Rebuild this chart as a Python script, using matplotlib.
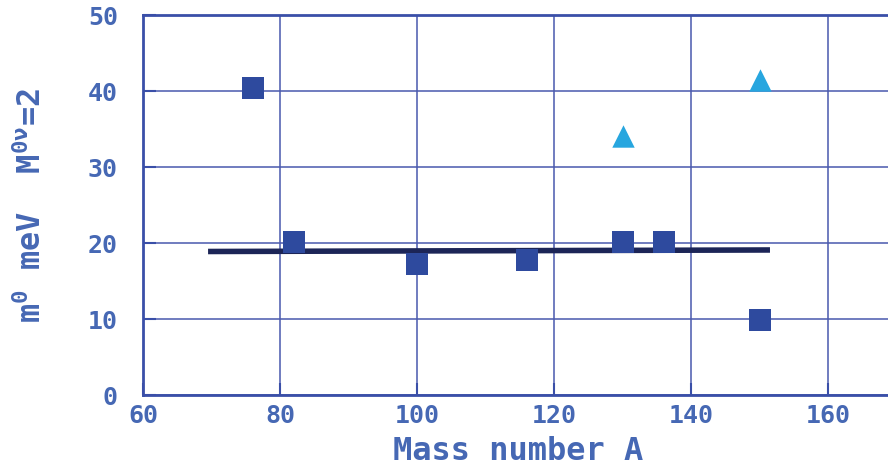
import matplotlib
matplotlib.use("Agg")
import matplotlib.pyplot as plt

sq_x = [76, 82, 100, 116, 130, 136, 150]
sq_y = [40.4, 20.2, 17.3, 17.8, 20.2, 20.2, 9.9]
tri_x = [130, 150]
tri_y = [34.1, 41.5]
line_x = [69.5, 151.5]
line_y = [18.9, 19.1]
xticks = [60, 80, 100, 120, 140, 160]
yticks = [0, 10, 20, 30, 40, 50]

fam = 'DejaVu Sans Mono'
plt.rcParams['font.family'] = [fam, 'DejaVu Sans']
plt.rcParams['mathtext.fontset'] = 'custom'
plt.rcParams['mathtext.rm'] = fam
plt.rcParams['mathtext.it'] = fam
plt.rcParams['mathtext.bf'] = fam + ':bold'

txt = '#4668B4'
grid = '#4A5AAE'

fig = plt.figure(figsize=(8.88, 4.71), dpi=100)
ax = fig.add_axes([0.161, 0.161, 0.845, 0.807])
ax.set_xlim(60, 169.5)
ax.set_ylim(0, 50)
ax.set_xticks(xticks)
ax.set_yticks(yticks)
ax.grid(True, color=grid, lw=1.3, alpha=0.85)
ax.set_axisbelow(True)
for s in ax.spines.values():
    s.set_color('#3A4FA8')
    s.set_linewidth(2)
ax.tick_params(direction='in', length=9, width=1.5, color='#3A4FA8',
               labelcolor=txt, labelsize=18)
ax.tick_params(axis='y', pad=18)
ax.tick_params(axis='x', pad=6)
for lab in ax.get_xticklabels() + ax.get_yticklabels():
    lab.set_fontweight('bold')

ax.plot(line_x, line_y, color='#1C2557', lw=4, solid_capstyle='butt', zorder=3)
ax.scatter(sq_x, sq_y, marker='s', s=260, color='#2E4A9E', zorder=4, linewidths=0)
ax.scatter(tri_x, tri_y, marker='^', s=260, color='#27A6DF', zorder=4, linewidths=0)

ax.set_xlabel('Mass number A', fontsize=23, color=txt, fontweight='bold', labelpad=6)
ax.set_ylabel(r'm$^{\mathbf{0}}$ meV  M$^{\mathbf{0\nu}}$=2', fontsize=23, color=txt,
              fontweight='bold', labelpad=29)

fig.savefig('out.png', dpi=100)
